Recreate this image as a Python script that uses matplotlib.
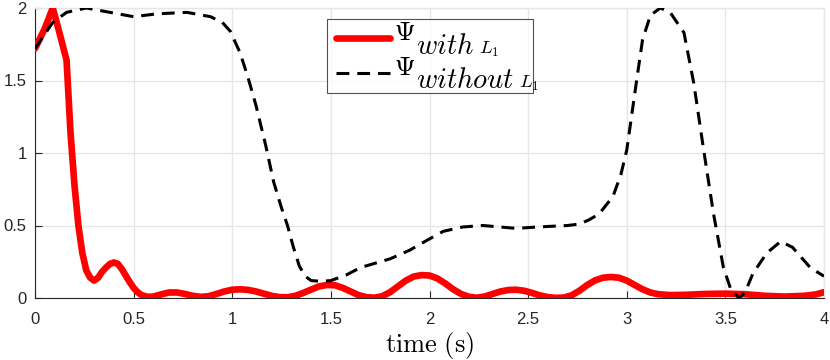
import matplotlib
matplotlib.use("Agg")
import numpy as np
import matplotlib.pyplot as plt
from matplotlib.transforms import IdentityTransform

plt.rcParams['font.family'] = ['Liberation Sans', 'DejaVu Sans']
plt.rcParams['mathtext.fontset'] = 'cm'

# Psi with L1 (red)
t_with = [0.0, 0.05, 0.09, 0.12, 0.16, 0.18, 0.20, 0.22, 0.24, 0.26, 0.28, 0.30, 0.32, 0.34, 0.36,
          0.38, 0.40, 0.42, 0.44, 0.46, 0.48, 0.50, 0.52, 0.54, 0.57, 0.60, 0.64, 0.68, 0.72, 0.76,
          0.80, 0.84, 0.88, 0.92, 0.96, 1.00, 1.04, 1.08, 1.12, 1.16, 1.20, 1.24, 1.28, 1.32, 1.36,
          1.40, 1.44, 1.48, 1.52, 1.56, 1.60, 1.64, 1.68, 1.72, 1.76, 1.80, 1.84, 1.88, 1.92, 1.96,
          2.00, 2.04, 2.08, 2.12, 2.16, 2.20, 2.24, 2.28, 2.32, 2.36, 2.40, 2.44, 2.48, 2.52, 2.56,
          2.60, 2.64, 2.68, 2.72, 2.76, 2.80, 2.84, 2.88, 2.92, 2.96, 3.00, 3.04, 3.08, 3.12, 3.16,
          3.22, 3.30, 3.40, 3.50, 3.60, 3.70, 3.80, 3.90, 3.96, 4.0]
psi_with = [1.72, 1.86, 2.0, 1.85, 1.64, 1.14, 0.78, 0.50, 0.31, 0.19, 0.14, 0.12, 0.14, 0.18, 0.21,
            0.235, 0.245, 0.235, 0.20, 0.155, 0.11, 0.07, 0.04, 0.02, 0.008, 0.01, 0.025, 0.038, 0.038, 0.028,
            0.015, 0.008, 0.012, 0.028, 0.045, 0.057, 0.06, 0.056, 0.045, 0.03, 0.015, 0.006, 0.005, 0.015, 0.035,
            0.058, 0.08, 0.09, 0.088, 0.07, 0.045, 0.02, 0.006, 0.002, 0.012, 0.04, 0.08, 0.12, 0.148, 0.158,
            0.155, 0.135, 0.10, 0.06, 0.028, 0.008, 0.002, 0.01, 0.028, 0.045, 0.055, 0.057, 0.05, 0.035, 0.018,
            0.006, 0.001, 0.003, 0.018, 0.05, 0.09, 0.122, 0.14, 0.145, 0.14, 0.12, 0.09, 0.06, 0.038, 0.026,
            0.02, 0.022, 0.028, 0.03, 0.026, 0.015, 0.01, 0.015, 0.025, 0.04]

# Psi without L1 (black dashed)
t_without = [0.0, 0.09, 0.16, 0.26, 0.38, 0.50, 0.62, 0.77, 0.89, 0.95, 0.99, 1.04, 1.08, 1.12, 1.17,
             1.21, 1.25, 1.28, 1.31, 1.34, 1.37, 1.40, 1.45, 1.50, 1.58, 1.65, 1.80, 1.90, 1.99, 2.07,
             2.17, 2.27, 2.44, 2.55, 2.70, 2.76, 2.81, 2.86, 2.93, 2.97, 3.00, 3.05, 3.08, 3.12, 3.17,
             3.22, 3.29, 3.34, 3.39, 3.44, 3.49, 3.53, 3.57, 3.60, 3.64, 3.71, 3.78, 3.84, 3.93, 4.0]
psi_without = [1.72, 1.90, 1.97, 2.0, 1.97, 1.94, 1.96, 1.97, 1.94, 1.90, 1.84, 1.69, 1.52, 1.33, 1.05,
               0.80, 0.62, 0.50, 0.35, 0.22, 0.15, 0.12, 0.115, 0.12, 0.16, 0.21, 0.27, 0.33, 0.40, 0.46,
               0.49, 0.50, 0.48, 0.49, 0.50, 0.51, 0.54, 0.58, 0.70, 0.85, 1.02, 1.50, 1.78, 1.95, 2.0,
               1.97, 1.83, 1.48, 1.02, 0.58, 0.21, 0.05, 0.0, 0.04, 0.17, 0.31, 0.39, 0.35, 0.21, 0.15]

x_ticks = [0, 0.5, 1, 1.5, 2, 2.5, 3, 3.5, 4]
x_ticklabels = ['0', '0.5', '1', '1.5', '2', '2.5', '3', '3.5', '4']
y_ticks = [0, 0.5, 1, 1.5, 2]
y_ticklabels = ['0', '0.5', '1', '1.5', '2']

leg_base = r'\Psi'
leg_subs = [r'with', r'without']
leg_subsub = r'L_1'

fig = plt.figure(figsize=(8.3, 3.6), dpi=100)
ax = fig.add_axes([35/830, 1 - 298/360, (824 - 35)/830, (298 - 8)/360])

l1, = ax.plot(t_with, psi_with, color='#ff0000', lw=4.8, solid_joinstyle='round',
              solid_capstyle='round', zorder=3)
l2, = ax.plot(t_without, psi_without, color='black', lw=2.2, dashes=(4.2, 2.6), zorder=4)

ax.set_xlim(0, 4)
ax.set_ylim(0, 2)
ax.set_xticks(x_ticks)
ax.set_xticklabels(x_ticklabels)
ax.set_yticks(y_ticks)
ax.set_yticklabels(y_ticklabels)
ax.grid(True, color='#e6e6e6', lw=1.0)
ax.set_axisbelow(True)

for s in ['left', 'bottom']:
    ax.spines[s].set_color('#262626')
    ax.spines[s].set_linewidth(0.8)
for s in ['top', 'right']:
    ax.spines[s].set_color('#e6e6e6')
    ax.spines[s].set_linewidth(1.0)

ax.tick_params(direction='in', length=5, width=0.8, color='#262626',
               labelcolor='#262626', labelsize=12, pad=10)
ax.tick_params(axis='y', pad=6)

ax.set_xlabel(r'$\mathrm{time\ (s)}$', fontsize=19, labelpad=2)

# legend: handles from the plotted lines; label slots are blank, and the LaTeX-like
# labels (Psi with a full-size italic subscript) are overlaid next to each handle.
LFS = 16
leg = ax.legend([l1, l2], [' ' * 21] * 2, loc='upper left',
                bbox_to_anchor=(0.3701, 0.962), fontsize=LFS,
                frameon=True, fancybox=False, edgecolor='#262626', handlelength=2.4,
                handleheight=0.2, handletextpad=0.225, borderpad=0.42, labelspacing=0.6,
                borderaxespad=0)
leg.get_frame().set_linewidth(0.8)

fig.canvas.draw()
renderer = fig.canvas.get_renderer()
T = IdentityTransform()
for h, sub in zip(leg.legend_handles, leg_subs):
    pts = h.get_transform().transform(np.column_stack(h.get_data()))
    hx1 = pts[:, 0].max()
    hy = pts[:, 1].mean()
    xb, yb = hx1 + 4, hy - 2
    tp = fig.text(xb, yb, r'$' + leg_base + r'$', fontsize=19,
                  va='baseline', ha='left', transform=T)
    bbp = tp.get_window_extent(renderer)
    t1 = fig.text(bbp.x1 + 1, yb - 13.5, r'$' + sub + r'$', fontsize=20.5,
                  va='baseline', ha='left', transform=T)
    bb1 = t1.get_window_extent(renderer)
    fig.text(bb1.x1 + 5, yb - 13.5, r'$' + leg_subsub + r'$', fontsize=13.5,
             va='baseline', ha='left', transform=T)

fig.savefig('out.png', dpi=100)
